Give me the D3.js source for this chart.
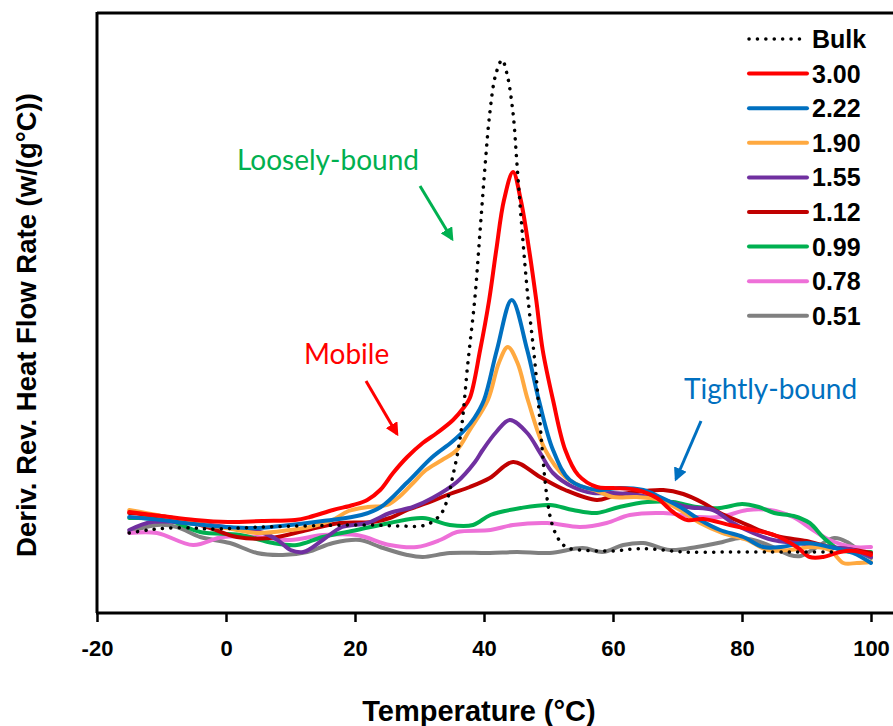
<!DOCTYPE html>
<html>
<head>
<meta charset="utf-8" />
<title>Deriv. Rev. Heat Flow</title>
<script src="https://d3js.org/d3.v7.min.js"></script>
<style>
  body { margin: 0; background: #fff; }
  svg { display: block; }
</style>
</head>
<body>
<div id="chart"></div>
<script>
// temperature (C), signal (arbitrary units)
var bulk = [[-15,80],[-12,83],[-9,85],[-5,85],[-2.5,84],[5.6,86],[11.5,87],[22,88],[27,87],[31,88],[33.2,98],[34.3,113],[35.2,138],[36,163],[36.6,190],[37.5,250],[38.6,316],[39.4,383],[40.2,450],[40.9,500],[41.8,538],[42.8,553],[43.6,538],[44.5,500],[45.1,450],[45.9,383],[46.8,316],[47.9,250],[48.5,205],[49,165],[49.5,130],[50,105],[50.5,90],[51.2,78],[52,70],[53,65],[55,63],[60,62],[63,64],[66,64],[71,61],[78,61],[85,61],[90,61],[95,61]];
var w300 = [[-15,101],[-10,97],[-4.8,93],[0.3,91],[5.6,92],[10.7,93],[13,96],[16.6,103],[19.7,108],[21.9,113],[23.9,123],[25.9,140],[28.1,156],[30.5,170],[32.7,180],[35.2,193],[36.8,205],[37.8,215],[39.4,263],[40.8,313],[41.9,363],[43.1,413],[44.5,441],[45.7,413],[47,363],[48.1,313],[49.1,263],[50.7,213],[52.6,163],[54.6,138],[57.5,126],[60,125],[63.7,123],[66.8,115],[69.3,101],[71.5,93],[74,94],[78.1,88],[81.7,83],[85,78],[88.5,66],[90.5,56],[92.6,56],[95.2,61],[97.5,62],[100,58]];
var w222 = [[-15,96],[-10,93],[-5,89],[0,86],[5,85],[10,88],[15,92],[21,98],[24,106],[28,130],[32,156],[35,171],[37,183],[38.5,195],[40,213],[42,263],[44.3,313],[46.7,263],[48.5,213],[50.7,163],[53.3,133],[57.5,123],[61,125],[64.7,123],[67.3,116],[70.4,106],[73.5,93],[76.6,83],[80.2,76],[83.3,66],[86,66],[90,70],[93.6,66],[97.2,60],[100,50]];
var w190 = [[-15,103],[-10,97],[-5,90],[0,85],[5,80],[10,83],[13,86],[16.5,93],[19,102],[22,106],[25,108],[27,117],[29,130],[31,143],[33.5,153],[35.8,163],[37.8,183],[40.6,213],[42.3,250],[43.7,266],[45.2,250],[46.8,213],[49.5,163],[52.6,136],[55,127],[57.5,122],[60,116],[63.7,116],[67.3,113],[70.4,103],[73.5,90],[77,80],[80.8,73],[83.9,63],[87.4,63],[91,66],[93.6,63],[95.7,50],[97.8,50],[100,51]];
var w155 = [[-15,83],[-11.5,91],[-5.6,90],[1.1,85],[5.8,80],[8,73],[10,63],[12,61],[15,73],[18,86],[21.9,90],[25.4,100],[29,106],[32,115],[35.8,131],[38.6,151],[39.8,163],[41.9,181],[44,193],[46.7,180],[48.7,160],[50.7,140],[53.8,126],[56.9,120],[60,120],[63.7,118],[67.8,113],[71.5,106],[75.5,103],[78.6,90],[81.7,80],[84.8,73],[88.5,70],[93.6,66],[97.2,63],[100,56]];
var w112 = [[-15,100],[-8.2,95],[-2.9,86],[1.7,76],[6.8,75],[12.6,83],[17.7,90],[22.8,91],[25.4,95],[28.1,103],[31.2,110],[34.7,119],[37.8,126],[40.9,135],[44.5,151],[48.7,136],[52.6,123],[57.5,113],[60,117],[63.4,121],[67.8,123],[70.9,119],[74,110],[76.6,100],[79.8,91],[82.6,83],[86,76],[90,72],[93.6,66],[97.5,63],[100,60]];
var w099 = [[-15,95],[-9,93],[-4,81],[2.2,78],[7.3,70],[11,68],[15,76],[20.3,83],[25.4,90],[30.5,95],[34.7,88],[38.3,88],[41,98],[45.7,105],[50.2,108],[53.8,103],[57.5,100],[61,106],[65.3,111],[69.3,111],[73,106],[76.6,105],[80,109],[82.6,106],[85,100],[88,97],[90.5,90],[92.7,75],[95.2,63],[97.8,61],[100,61]];
var w078 = [[-15,80],[-10.7,80],[-5.1,68],[-0.5,76],[4.8,76],[10,73],[15,78],[20.3,78],[25.4,68],[29.6,66],[33.2,73],[35.8,81],[41,83],[44.5,88],[49.8,90],[54.9,86],[59,90],[62.6,98],[67.8,100],[73,96],[76.6,96],[80.8,103],[84.3,103],[87.9,96],[91,83],[93.6,73],[97.2,66],[100,66]];
var w051 = [[-15,81],[-10.7,88],[-7.6,86],[-4,76],[0.6,70],[4.8,60],[8.8,58],[12.6,61],[16.6,70],[20.8,73],[23.9,66],[28.1,58],[30.5,56],[34.7,60],[40.9,60],[45.1,61],[50.2,60],[55.3,65],[58.4,61],[61.6,68],[64.7,70],[68.8,63],[73,66],[77,71],[79.7,75],[82.3,72],[84.8,66],[87.4,58],[89.1,57],[91.6,66],[94.3,75],[96.3,71],[98.6,60],[100,55]];

var seriesNames = ["Bulk", "3.00", "2.22", "1.90", "1.55", "1.12", "0.99", "0.78", "0.51"];
var seriesColors = ["#000000", "#FF0000", "#0070C0", "#FFA940", "#7030A0", "#C00000", "#00B050", "#EE70D8", "#808080"];
var xTicks = [-20, 0, 20, 40, 60, 80, 100];

var series = [bulk, w300, w222, w190, w155, w112, w099, w078, w051].map(function (d, i) {
    return { name: seriesNames[i], color: seriesColors[i], values: d, dotted: i === 0 };
});

var width = 893, height = 726;
var svg = d3.select("#chart").append("svg")
    .attr("width", width)
    .attr("height", height);

var x = d3.scaleLinear().domain([-20, 100]).range([97, 871]);
var y = d3.scaleLinear().domain([0, 600]).range([613, 13]);

// frame: left + top
svg.append("line")
    .attr("x1", 97).attr("x2", width + 5)
    .attr("y1", 13).attr("y2", 13)
    .style("stroke", "#000").style("stroke-width", 3);
svg.append("line")
    .attr("x1", 97).attr("x2", 97)
    .attr("y1", 12).attr("y2", 613)
    .style("stroke", "#000").style("stroke-width", 3);

// x axis
var xAxis = svg.append("g")
    .attr("transform", "translate(0,613)")
    .call(d3.axisBottom(x).tickValues(xTicks).tickSize(9).tickPadding(18)
        .tickFormat(function (d) { return d < 0 ? "-" + Math.abs(d) : String(d); }));
xAxis.select(".domain").remove();
xAxis.append("line")
    .attr("x1", 96).attr("x2", width + 5)
    .style("stroke", "#000").style("stroke-width", 3);
xAxis.selectAll(".tick line").style("stroke", "#000").style("stroke-width", 2.5);
xAxis.selectAll(".tick text")
    .style("font-family", "'Liberation Sans', Arial, sans-serif")
    .style("font-weight", "bold")
    .style("font-size", "22px")
    .style("fill", "#000");

svg.append("text")
    .attr("x", 479).attr("y", 721)
    .attr("text-anchor", "middle")
    .style("font-family", "'Liberation Sans', Arial, sans-serif")
    .style("font-weight", "bold")
    .style("font-size", "29px")
    .text("Temperature (\u00B0C)");

svg.append("text")
    .attr("transform", "translate(36,325) rotate(-90)")
    .attr("text-anchor", "middle")
    .style("font-family", "'Liberation Sans', Arial, sans-serif")
    .style("font-weight", "bold")
    .style("font-size", "27.5px")
    .text("Deriv. Rev. Heat Flow Rate (w/(g\u00B0C))");

// curves
var line = d3.line()
    .x(function (d) { return x(d[0]); })
    .y(function (d) { return y(d[1]); })
    .curve(d3.curveCatmullRom.alpha(0.5));

// draw thin ones first, big peaks on top, bulk last
var order = [8, 7, 6, 5, 4, 3, 2, 1, 0];
svg.append("g")
    .selectAll("path")
    .data(order.map(function (i) { return series[i]; }))
    .enter().append("path")
    .attr("d", function (d) { return line(d.values); })
    .style("fill", "none")
    .style("stroke", function (d) { return d.color; })
    .style("stroke-width", function (d) { return d.dotted ? 3.5 : 4; })
    .style("stroke-dasharray", function (d) { return d.dotted ? "0.1 8.3" : null; })
    .style("stroke-linecap", "round")
    .style("stroke-linejoin", "round");

// legend
var legend = svg.append("g")
    .selectAll("g")
    .data(series)
    .enter().append("g")
    .attr("transform", function (d, i) { return "translate(0," + (39 + i * 34.6) + ")"; });
legend.append("line")
    .attr("x1", 749).attr("x2", 807)
    .style("stroke", function (d) { return d.color; })
    .style("stroke-width", function (d) { return d.dotted ? 3.5 : 4; })
    .style("stroke-dasharray", function (d) { return d.dotted ? "0.1 8.3" : null; })
    .style("stroke-linecap", "round");
legend.append("text")
    .attr("x", 812).attr("y", 9)
    .style("font-family", "'Liberation Sans', Arial, sans-serif")
    .style("font-weight", "bold")
    .style("font-size", "25px")
    .text(function (d) { return d.name; });

// annotations
var notes = [
    { text: "Loosely-bound", color: "#00B050", tx: 237, ty: 170, a: [420, 186, 452, 239] },
    { text: "Mobile", color: "#FF0000", tx: 304, ty: 364, a: [366, 381, 397, 434] },
    { text: "Tightly-bound", color: "#0070C0", tx: 684, ty: 399, a: [701, 421, 676, 479] }
];
var defs = svg.append("defs");
notes.forEach(function (n, i) {
    defs.append("marker")
        .attr("id", "arr" + i)
        .attr("viewBox", "0 0 10 10")
        .attr("refX", 8).attr("refY", 5)
        .attr("markerWidth", 4.5).attr("markerHeight", 4.5)
        .attr("orient", "auto")
        .append("path")
        .attr("d", "M0,0L10,5L0,10Z")
        .style("fill", n.color);
    svg.append("text")
        .attr("x", n.tx).attr("y", n.ty)
        .style("font-family", "Lato, 'Open Sans', sans-serif")
        .style("font-size", "28px")
        .style("fill", n.color)
        .text(n.text);
    svg.append("line")
        .attr("x1", n.a[0]).attr("y1", n.a[1])
        .attr("x2", n.a[2]).attr("y2", n.a[3])
        .style("stroke", n.color)
        .style("stroke-width", 3)
        .attr("marker-end", "url(#arr" + i + ")");
});
</script>
</body>
</html>
